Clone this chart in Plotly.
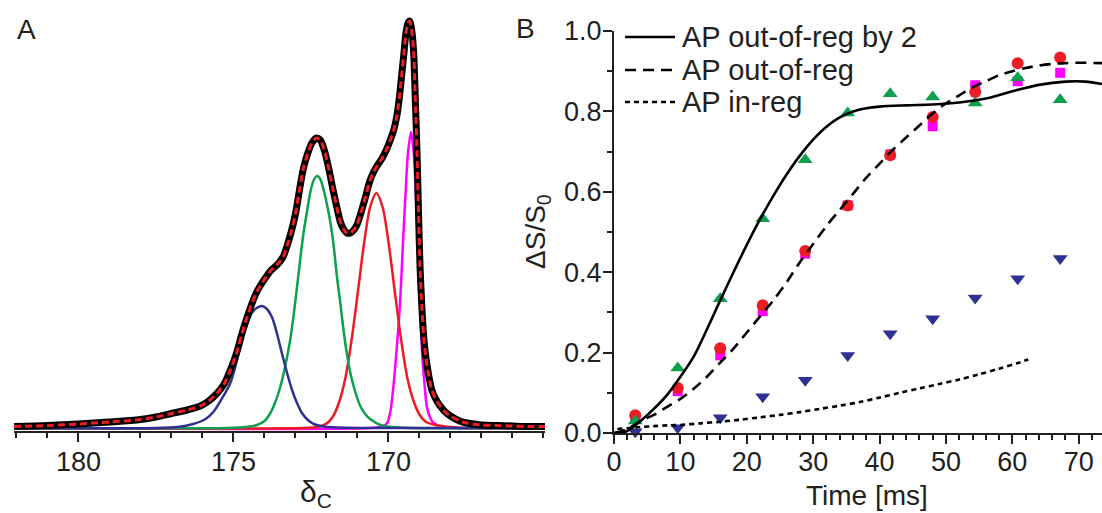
import plotly.graph_objects as go

W, H = 1102, 513

# ---------- Panel A: 13C spectrum (ppm, intensity a.u.) ----------
spec_ppm = [182.08, 181.0, 180.0, 179.0, 178.0, 177.5, 177.0, 176.5, 176.07, 175.8, 175.55,
            175.3, 175.1, 174.9, 174.73, 174.57, 174.41, 174.25, 174.08, 173.95, 173.81,
            173.67, 173.54, 173.4, 173.27, 173.13, 173.0, 172.87, 172.74, 172.6, 172.47,
            172.33, 172.2, 172.07, 171.93, 171.8, 171.66, 171.55, 171.45, 171.34, 171.23,
            171.12, 171.02, 170.9, 170.75, 170.6, 170.48, 170.35, 170.2, 170.07, 169.94,
            169.83, 169.73, 169.65, 169.57, 169.5, 169.44, 169.38, 169.32, 169.26, 169.19,
            169.14, 169.08, 169.03, 168.98, 168.92, 168.87, 168.8, 168.71, 168.6, 168.44,
            168.2, 168.0, 167.7, 167.47, 167.0, 166.5, 166.0, 165.5, 164.95]
spec_int = [1.5, 2.5, 4, 6, 8.5, 11, 14.5, 18, 22, 27, 34,
            44, 58, 75, 94, 110, 124, 136, 145, 151, 157,
            161, 165, 171, 182, 197, 214, 238, 260, 275, 285,
            290, 288, 278, 260, 240, 220, 206, 199, 195, 195,
            198, 203, 214, 230, 247, 256, 263, 270, 278, 288,
            298, 312, 330, 354, 375, 394, 404, 407, 400, 377,
            335, 277, 215, 160, 120, 94, 72, 54, 38, 27,
            17, 12, 7, 5, 3, 2.5, 2, 1.5, 1.5]

# deconvolved components
blue_ppm = [182.08, 177.5, 176.8, 176.3, 175.9, 175.65, 175.4, 175.1, 174.9, 174.73, 174.55,
            174.41, 174.25, 174.08, 173.92, 173.76, 173.6, 173.44, 173.27, 173.11, 172.95,
            172.79, 172.6, 172.41, 172.1, 171.6, 170.5, 164.95]
blue_int = [0, 0, 1, 4, 9, 16, 28, 45, 66, 88, 105,
            115, 120, 122, 119, 111, 95, 75, 55, 38, 25,
            15, 8, 4, 1.5, 0.5, 0, 0]

green_ppm = [182.08, 175.2, 174.6, 174.24, 174.0, 173.81, 173.65, 173.49, 173.33, 173.17, 173.05,
             172.95, 172.84, 172.74, 172.62, 172.52, 172.41, 172.3, 172.2, 172.09, 171.98,
             171.87, 171.76, 171.66, 171.55, 171.45, 171.34, 171.23, 171.07, 170.91, 170.75,
             170.59, 170.26, 169.9, 169.3, 164.95]
green_int = [0, 0, 1, 3, 7, 15, 26, 41, 62, 88, 115,
             141, 170, 195, 218, 236, 248, 252, 249, 238, 223,
             205, 180, 151, 124, 98, 74, 55, 36, 22, 14,
             9, 3, 1, 0, 0]

red_ppm = [182.08, 172.8, 172.29, 171.99, 171.79, 171.59, 171.39, 171.19, 170.99, 170.79, 170.59,
           170.39, 170.19, 169.99, 169.79, 169.59, 169.39, 169.19, 168.99, 168.79, 168.39,
           167.79, 164.95]
red_int = [0, 0, 1, 4.6, 11.5, 26, 50, 88, 135, 184, 221,
           235, 221, 184, 135, 88, 50, 27, 13, 6, 2.5,
           0.5, 0]

mag_ppm = [182.08, 170.6, 170.2, 170.04, 169.93, 169.83, 169.72, 169.62, 169.54, 169.46, 169.37,
           169.27, 169.2, 169.13, 169.08, 169.03, 168.97, 168.92, 168.84, 168.76, 168.65,
           168.54, 168.33, 167.8, 164.95]
mag_int = [0, 0, 1.5, 5, 18, 45, 85, 128, 180, 228, 275,
           296, 280, 245, 205, 161, 118, 78, 45, 21, 10,
           5, 1.5, 0, 0]

ppm_ticks = [180, 175, 170]

# ---------- Panel B: dephasing build-up ----------
t_ms = [3.2, 9.6, 16.0, 22.4, 28.8, 35.2, 41.6, 48.0, 54.4, 60.8, 67.2]
s_green = [0.030, 0.162, 0.334, 0.533, 0.680, 0.796, 0.844, 0.836, 0.821, 0.884, 0.829]
s_red = [0.044, 0.112, 0.211, 0.318, 0.453, 0.566, 0.691, 0.786, 0.848, 0.920, 0.934]
s_magenta = [0.038, 0.104, 0.193, 0.303, 0.446, 0.566, 0.693, 0.763, 0.865, 0.875, 0.896]
s_blue = [0.003, 0.013, 0.038, 0.090, 0.131, 0.193, 0.247, 0.284, 0.336, 0.384, 0.434]

# simulated curves
sim2_t = [0, 2, 4, 6, 8, 10, 12, 14, 16, 18, 20, 22, 24, 26, 28, 30, 32, 34, 36, 38, 40,
          44, 48, 52, 56, 60, 64, 68, 71, 73.5]
sim2_v = [0.0, 0.005, 0.03, 0.06, 0.095, 0.14, 0.19, 0.258, 0.33, 0.40, 0.468, 0.532, 0.59,
          0.643, 0.69, 0.73, 0.762, 0.785, 0.8, 0.808, 0.812, 0.815, 0.817, 0.822, 0.832,
          0.85, 0.866, 0.874, 0.874, 0.868]
sim1_t = [0, 2, 4, 6, 8, 10, 12, 14, 16, 18, 20, 22, 24, 26, 28, 30, 32, 34, 36, 38, 40,
          42, 44, 46, 48, 50, 52, 54, 56, 58, 60, 62, 64, 66, 68, 70, 73.5]
sim1_v = [0.0, 0.01, 0.03, 0.045, 0.065, 0.085, 0.11, 0.14, 0.175, 0.21, 0.25, 0.29, 0.33,
          0.375, 0.425, 0.47, 0.515, 0.555, 0.595, 0.635, 0.67, 0.705, 0.735, 0.765, 0.795,
          0.82, 0.84, 0.86, 0.875, 0.89, 0.9, 0.908, 0.914, 0.918, 0.92, 0.921, 0.92]
sim0_t = [0.5, 2, 4, 6, 8, 10, 13, 16, 19, 22, 25, 28, 31, 34, 37, 40, 43, 46, 49, 52, 55,
          58, 61, 62.4]
sim0_v = [0.01, 0.012, 0.015, 0.017, 0.019, 0.02, 0.024, 0.028, 0.033, 0.039, 0.045, 0.052,
          0.06, 0.068, 0.077, 0.088, 0.1, 0.111, 0.122, 0.133, 0.146, 0.16, 0.175, 0.183]

legend_labels = ["AP out-of-reg by 2", "AP out-of-reg", "AP in-reg"]
legend_dash = ["solid", "11px,7px", "5px,4px"]

FONT = "Liberation Sans, Arial, sans-serif"
INK = "#231f20"
C_BLUE, C_GREEN, C_RED, C_MAG = "#2e3192", "#0e9f4f", "#ed1c24", "#ff00ff"


def px(xp):
    return xp / W


def py(yp):
    return 1 - yp / H


fig = go.Figure()

# Panel A: components (blue last so its baseline runs on top), then spectrum and fit
for xs, ys, col in [(mag_ppm, mag_int, C_MAG), (red_ppm, red_int, C_RED),
                    (green_ppm, green_int, C_GREEN), (blue_ppm, blue_int, C_BLUE)]:
    fig.add_trace(go.Scatter(x=xs, y=ys, mode="lines", xaxis="x", yaxis="y",
                             line=dict(color=col, width=2.5, shape="spline", smoothing=0.8),
                             showlegend=False, hoverinfo="skip"))
fig.add_trace(go.Scatter(x=spec_ppm, y=spec_int, mode="lines", xaxis="x", yaxis="y",
                         line=dict(color="black", width=7, shape="spline", smoothing=0.8),
                         showlegend=False))
fig.add_trace(go.Scatter(x=spec_ppm, y=spec_int, mode="lines", xaxis="x", yaxis="y",
                         line=dict(color=C_RED, width=3, dash="7px,4px", shape="spline",
                                   smoothing=0.8),
                         showlegend=False))

# Panel B markers
for ys, sym, col, sz in [(s_magenta, "square", C_MAG, 10), (s_red, "circle", C_RED, 12),
                         (s_green, "triangle-up", C_GREEN, 13),
                         (s_blue, "triangle-down", C_BLUE, 13)]:
    fig.add_trace(go.Scatter(x=t_ms, y=ys, mode="markers", xaxis="x2", yaxis="y2",
                             marker=dict(symbol=sym, color=col, size=sz, line=dict(width=0)),
                             cliponaxis=False, showlegend=False))

# Panel B simulations
for xs, ys, dash in [(sim2_t, sim2_v, legend_dash[0]), (sim1_t, sim1_v, legend_dash[1]),
                     (sim0_t, sim0_v, legend_dash[2])]:
    fig.add_trace(go.Scatter(x=xs, y=ys, mode="lines", xaxis="x2", yaxis="y2",
                             line=dict(color="black", width=2.6, dash=dash, shape="spline",
                                       smoothing=0.9),
                             showlegend=False))

axis_common = dict(showline=True, linecolor=INK, linewidth=2, ticks="outside",
                   tickcolor=INK, tickwidth=2, ticklen=9, showgrid=False, zeroline=False,
                   automargin=False,
                   tickfont=dict(family=FONT, size=27, color=INK))

fig.update_layout(
    width=W, height=H, margin=dict(l=0, r=0, t=0, b=0, autoexpand=False),
    paper_bgcolor="white", plot_bgcolor="white",
    xaxis=dict(domain=[px(14), px(545)], range=[182.08, 164.95], anchor="y",
               tickvals=ppm_ticks, ticklabelstandoff=-3,
               minor=dict(dtick=1, tick0=0, ticks="outside", ticklen=5, tickwidth=2,
                          tickcolor=INK),
               **axis_common),
    yaxis=dict(domain=[py(431), py(10)], range=[-3, 418], visible=False, automargin=False),
    xaxis2=dict(domain=[px(614), 1.0], range=[0, 73.5], anchor="y2", dtick=10,
                ticklabelstandoff=-5,
                minor=dict(dtick=2, ticks="outside", ticklen=5, tickwidth=2, tickcolor=INK),
                **axis_common),
    yaxis2=dict(domain=[py(433), py(31)], range=[0, 1.0], anchor="x2", dtick=0.2,
                tickformat=".1f", ticklabelstandoff=-4,
                minor=dict(dtick=0.1, ticks="outside", ticklen=5, tickwidth=2, tickcolor=INK),
                **axis_common),
)

ann = [
    dict(text="A", x=px(26), y=py(29), size=28),
    dict(text="B", x=px(525), y=py(28), size=28),
    dict(text="δ<sub>C</sub>", x=px(316), y=py(493), size=30),
    dict(text="Time [ms]", x=px(867), y=py(495), size=28),
    dict(text="ΔS/S<sub>0</sub>", x=px(537), y=py(232), size=28, angle=-90),
]
for a in ann:
    fig.add_annotation(text=a["text"], x=a["x"], y=a["y"], xref="paper", yref="paper",
                       showarrow=False, xanchor="center", yanchor="middle",
                       textangle=a.get("angle", 0),
                       font=dict(family=FONT, size=a.get("size", 26), color=INK))

# legend
for i, (lab, dash) in enumerate(zip(legend_labels, legend_dash)):
    yc = [37, 70, 102][i]
    fig.add_shape(type="line", xref="paper", yref="paper", x0=px(625), x1=px(675),
                  y0=py(yc), y1=py(yc), line=dict(color="black", width=2.6, dash=dash))
    fig.add_annotation(text=lab, x=px(680), y=py(yc), xref="paper", yref="paper",
                       showarrow=False, xanchor="left", yanchor="middle",
                       font=dict(family=FONT, size=29, color=INK))

fig.write_html("out.html")
